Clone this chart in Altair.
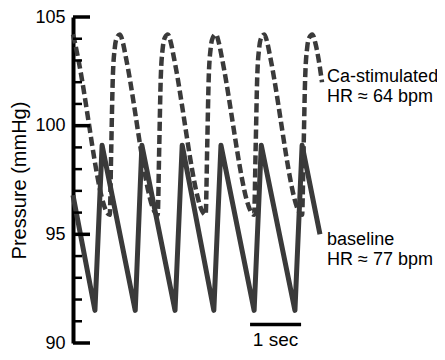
import altair as alt
import pandas as pd

# Baseline (solid) trace: time (s) and pressure (mmHg)
base_t = [0.00, 0.43, 0.57, 1.22, 1.35, 2.00, 2.14, 2.76, 2.90, 3.55, 3.69, 4.35, 4.49, 4.84]
base_p = [96.8, 91.5, 99.1, 91.5, 99.1, 91.5, 99.1, 91.5, 99.1, 91.5, 99.1, 91.5, 99.1, 95.0]

# Ca-stimulated (dashed) trace
ca_t = [0.00, 0.04, 0.10,
        0.72, 0.75, 0.78, 0.82, 0.86, 0.92, 0.98, 1.04,
        1.66, 1.69, 1.72, 1.76, 1.80, 1.86, 1.92, 1.98,
        2.60, 2.63, 2.66, 2.70, 2.74, 2.80, 2.86, 2.92,
        3.55, 3.58, 3.61, 3.65, 3.69, 3.75, 3.81, 3.87,
        4.49, 4.52, 4.55, 4.59, 4.63, 4.69, 4.75, 4.81,
        4.88]
ca_p = [104.2, 103.8, 103.1,
        95.9, 99.0, 102.2, 103.6, 104.05, 104.2, 103.8, 103.1,
        95.9, 99.0, 102.2, 103.6, 104.05, 104.2, 103.8, 103.1,
        95.9, 99.0, 102.2, 103.6, 104.05, 104.2, 103.8, 103.1,
        95.9, 99.0, 102.2, 103.6, 104.05, 104.2, 103.8, 103.1,
        95.9, 99.0, 102.2, 103.6, 104.05, 104.2, 103.8, 103.1,
        102.0]

major_ticks = [90, 95, 100, 105]
minor_ticks = [91, 92, 93, 94, 96, 97, 98, 99, 101, 102, 103, 104]

label_text = ["Ca-stimulated", "HR ≈ 64 bpm", "baseline", "HR ≈ 77 bpm"]
label_t = [4.98, 4.98, 4.98, 4.98]
label_p = [102.25, 101.3, 94.75, 93.8]

bar_t = [3.47]
bar_t2 = [4.47]
bar_p = [90.85]
bar_label = ["1 sec"]
bar_label_t = [3.97]
bar_label_p = [89.84]

FONT = "Liberation Sans"
LINE = "#3a3a3a"

xscale = alt.Scale(domain=[0, 4.88], nice=False, zero=False)
yscale = alt.Scale(domain=[90, 105], nice=False, zero=False)
yaxis = alt.Axis(values=major_ticks, ticks=False, grid=False, domain=True,
                 domainColor="black", domainWidth=4,
                 labelFont=FONT, labelFontSize=18, labelColor="black", labelPadding=8,
                 title="Pressure (mmHg)", titleFont=FONT, titleFontSize=20,
                 titleFontWeight="normal", titleColor="black", titlePadding=5)

base_df = pd.DataFrame({"t": base_t, "p": base_p})
ca_df = pd.DataFrame({"t": ca_t, "p": ca_p})
maj_df = pd.DataFrame({"p": major_ticks})
min_df = pd.DataFrame({"p": minor_ticks})
lab_df = pd.DataFrame({"t": label_t, "p": label_p, "label": label_text})
bar_df = pd.DataFrame({"t": bar_t, "t2": bar_t2, "p": bar_p})
barlab_df = pd.DataFrame({"t": bar_label_t, "p": bar_label_p, "label": bar_label})

Y = lambda: alt.Y("p:Q", scale=yscale, axis=yaxis)
X = lambda: alt.X("t:Q", scale=xscale, axis=None)

base_line = alt.Chart(base_df).mark_line(color=LINE, strokeWidth=5, strokeJoin="round").encode(
    x=X(), y=Y(), order="t:Q")
ca_line = alt.Chart(ca_df).mark_line(color=LINE, strokeWidth=4.5, strokeDash=[9, 4],
                                     interpolate="monotone").encode(x=X(), y=Y(), order="t:Q")

maj = alt.Chart(maj_df).mark_rule(color="black", strokeWidth=3.5).encode(
    y=Y(), x=alt.value(0), x2=alt.value(17))
mnr = alt.Chart(min_df).mark_rule(color="black", strokeWidth=2.5).encode(
    y=Y(), x=alt.value(0), x2=alt.value(9))

labels = alt.Chart(lab_df).mark_text(align="left", baseline="middle", font=FONT,
                                     fontSize=18, color="black").encode(
    x=X(), y=Y(), text="label:N")

bar = alt.Chart(bar_df).mark_rule(color="black", strokeWidth=3.5).encode(
    x=X(), x2="t2:Q", y=Y())
barlab = alt.Chart(barlab_df).mark_text(align="center", baseline="alphabetic", font=FONT,
                                        fontSize=19, color="black").encode(
    x=X(), y=Y(), text="label:N")

chart = alt.layer(base_line, ca_line, mnr, maj, labels, bar, barlab).properties(
    width=249, height=326,
    autosize=alt.AutoSizeParams(type="none"),
    padding={"left": 65, "top": 9, "right": 115, "bottom": 9},
).configure_view(stroke=None)

chart.save("out.html", embed_options={"renderer": "svg", "actions": False})
